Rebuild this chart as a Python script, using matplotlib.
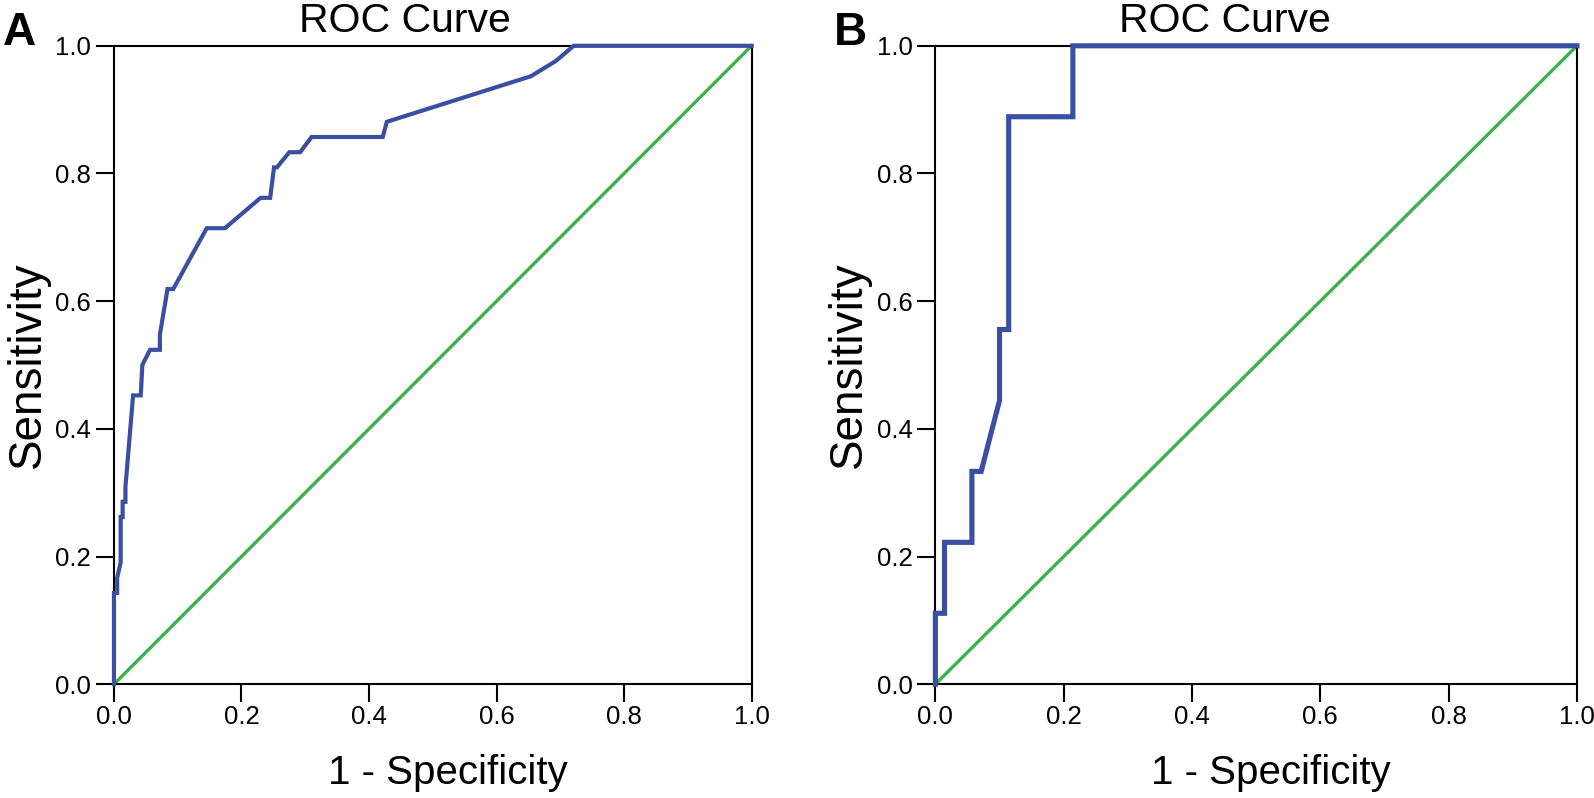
import matplotlib
matplotlib.use("Agg")
import matplotlib.pyplot as plt

# Panel A ROC curve (1 - specificity, sensitivity)
fpr_a = [0.0, 0.0, 0.005, 0.005, 0.0105, 0.0105, 0.0136, 0.0136, 0.018, 0.018,
         0.030, 0.042, 0.0445, 0.0565, 0.072, 0.072, 0.084, 0.093, 0.1455, 0.174,
         0.230, 0.245, 0.251, 0.2555, 0.275, 0.292, 0.310, 0.4215, 0.428, 0.654,
         0.693, 0.721, 1.0]
tpr_a = [0.0, 6/42, 6/42, 7/42, 8/42, 11/42, 11/42, 12/42, 12/42, 13/42,
         19/42, 19/42, 21/42, 22/42, 22/42, 23/42, 26/42, 26/42, 30/42, 30/42,
         32/42, 32/42, 34/42, 34/42, 35/42, 35/42, 36/42, 36/42, 37/42, 40/42,
         41/42, 1.0, 1.0]

# Panel B ROC curve
fpr_b = [0.0, 0.0, 0.0143, 0.0143, 0.057, 0.057, 0.0714, 0.100, 0.100, 0.1143,
         0.1143, 0.2143, 0.2143, 1.0]
tpr_b = [0.0, 1/9, 1/9, 2/9, 2/9, 3/9, 3/9, 4/9, 5/9, 5/9,
         8/9, 8/9, 1.0, 1.0]

ref_line = [0.0, 1.0]
ticks = [0.0, 0.2, 0.4, 0.6, 0.8, 1.0]
tick_labels = ["0.0", "0.2", "0.4", "0.6", "0.8", "1.0"]
panel_letters = ["A", "B"]
title = "ROC Curve"
xlabel = "1 - Specificity"
ylabel = "Sensitivity"

BLUE = "#3a4fa1"
GREEN = "#3db14a"

plt.rcParams['font.family'] = ['Liberation Sans', 'DejaVu Sans']

fig = plt.figure(figsize=(15.94, 7.98), dpi=100)
axA = fig.add_axes([0.0715, 0.1426, 0.400, 0.800])
axB = fig.add_axes([0.5868, 0.1426, 0.4025, 0.800])

for ax, fx, ty, lw, tx in [(axA, fpr_a, tpr_a, 3.0, 0.456),
                           (axB, fpr_b, tpr_b, 3.7, 0.452)]:
    ax.plot(ref_line, ref_line, color=GREEN, lw=2.4, zorder=2, clip_on=False)
    ax.plot(fx, ty, color=BLUE, lw=lw, zorder=3, clip_on=False,
            solid_joinstyle='miter')
    ax.set_xlim(0, 1)
    ax.set_ylim(0, 1)
    ax.set_xticks(ticks)
    ax.set_yticks(ticks)
    ax.set_xticklabels(tick_labels)
    ax.set_yticklabels(tick_labels)
    ax.tick_params(direction='out', length=13, width=1.5, labelsize=18.5,
                   colors='black')
    ax.tick_params(axis='x', pad=2)
    ax.tick_params(axis='y', pad=3.5)
    for s in ax.spines.values():
        s.set_linewidth(1.5)
        s.set_color('black')
    ax.set_title(title, fontsize=29.5, pad=10, x=tx)
    ax.set_xlabel(xlabel, fontsize=29, labelpad=18, x=0.523)
    ax.set_ylabel(ylabel, fontsize=33, labelpad=4)

fig.text(3 / 1594, 1 - 45 / 798, panel_letters[0], fontsize=33, fontweight='bold',
         va='baseline', ha='left')
fig.text(834 / 1594, 1 - 45 / 798, panel_letters[1], fontsize=33, fontweight='bold',
         va='baseline', ha='left')

fig.savefig("out.png", dpi=100)
